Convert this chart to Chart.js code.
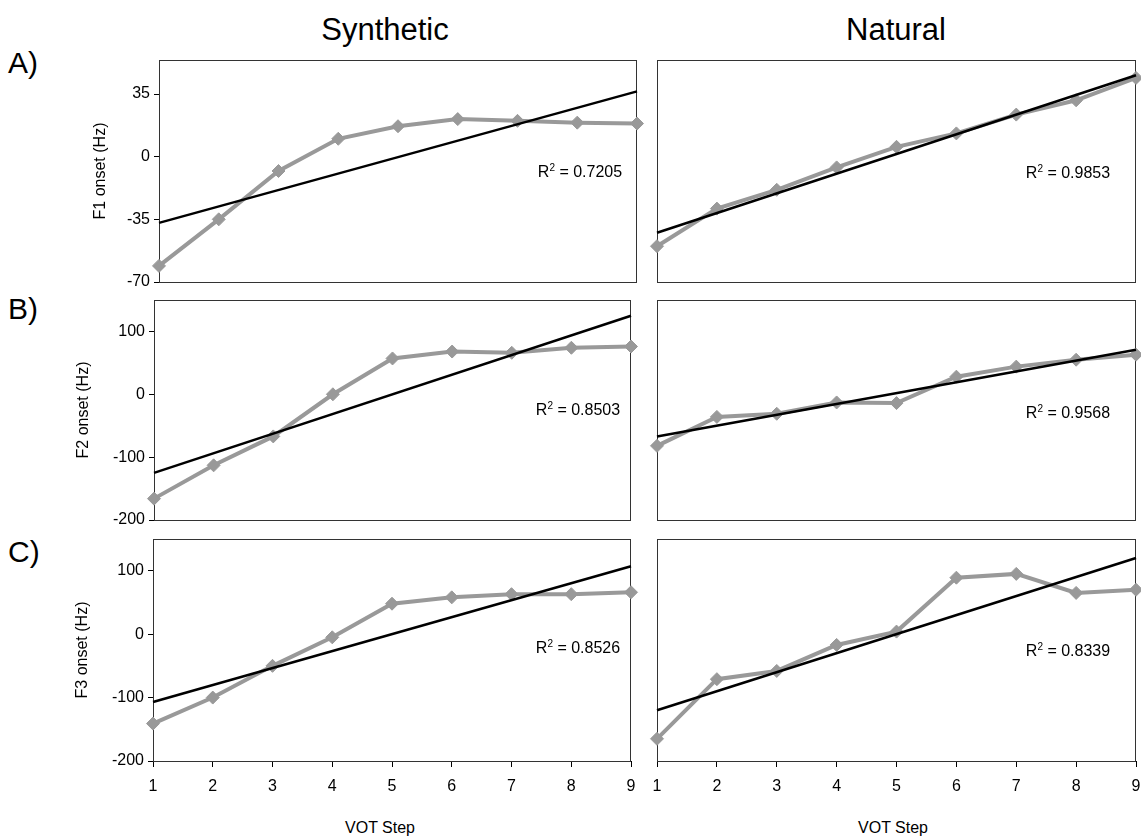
<!DOCTYPE html>
<html lang="en">
<head>
    <meta charset="UTF-8">
    <title>VOT Step onset</title>
    <script src="https://cdn.jsdelivr.net/npm/chart.js"></script>
    <style>
        body {
            margin: 0;
            background: #fff;
            font-family: "Liberation Sans", Arial, sans-serif;
        }
        #fig {
            position: relative;
            width: 1141px;
            height: 838px;
            overflow: hidden;
        }
        #fig canvas {
            position: absolute;
        }
        .txt {
            position: absolute;
            color: #000;
            white-space: nowrap;
            transform: translate(-50%, -50%);
        }
        .col-title { font-size: 31px; }
        .row-label { font-size: 30px; transform: translate(0, -50%); }
        .r2 { font-size: 16px; }
        .r2 sup { font-size: 10px; vertical-align: 6px; line-height: 0; }
        .xtitle { font-size: 16px; }
    </style>
</head>
<body>
<div id="fig">
    <div class="txt col-title" style="left:385px; top:30px;">Synthetic</div>
    <div class="txt col-title" style="left:896px; top:30px;">Natural</div>
    <div class="txt row-label" style="left:8px; top:63px;">A)</div>
    <div class="txt row-label" style="left:8px; top:309px;">B)</div>
    <div class="txt row-label" style="left:8px; top:552px;">C)</div>
    <div class="txt xtitle" style="left:380px; top:828px;">VOT Step</div>
    <div class="txt xtitle" style="left:893px; top:828px;">VOT Step</div>
</div>

<script>
    // VOT steps on the x axis
    var steps = [1, 2, 3, 4, 5, 6, 7, 8, 9];

    // onset shift (Hz) per step
    var synF1 = [-61, -35, -8, 10, 17, 21, 20, 19, 18.5];
    var natF1 = [-50, -29, -18.5, -6, 5.5, 13, 23.5, 31.5, 44];
    var synF2 = [-166, -113, -67, 0, 57, 68, 66, 74, 76];
    var natF2 = [-82, -36, -31, -13, -14, 28, 44, 55, 63];
    var synF3 = [-141, -100, -50, -5, 48, 58, 63, 63, 66];
    var natF3 = [-165, -71, -58, -17, 4, 89, 95, 65, 70];

    // linear trend line, value at step 1 and step 9
    var synF1Trend = [-37, 36.5];
    var natF1Trend = [-42.5, 45.5];
    var synF2Trend = [-125, 125];
    var natF2Trend = [-67, 71];
    var synF3Trend = [-107, 107];
    var natF3Trend = [-120, 120];

    var r2Values = ['0.7205', '0.9853', '0.8503', '0.9568', '0.8526', '0.8339'];

    // y axis ticks per row
    var f1Ticks = [-70, -35, 0, 35];
    var f23Ticks = [-200, -100, 0, 100];

    Chart.defaults.font.family = '"Liberation Sans", Arial, sans-serif';
    Chart.defaults.color = '#000';

    var fig = document.getElementById('fig');

    // box round the plot area
    var frame = {
        id: 'frame',
        beforeDatasetsDraw: function (chart) {
            var a = chart.chartArea, ctx = chart.ctx;
            ctx.save();
            ctx.strokeStyle = '#333';
            ctx.lineWidth = 1;
            ctx.strokeRect(Math.round(a.left) + 0.5, Math.round(a.top) + 0.5,
                Math.round(a.right - a.left) - 1, Math.round(a.bottom - a.top));
            ctx.restore();
        }
    };

    function makePanel(p) {
        var pad = 16, xH = 40;
        var canvasLeft = p.yAxis ? p.axisLeft : p.left - pad;
        var w = p.right + pad - canvasLeft;
        var h = pad + (p.bottom - p.top) + (p.xAxis ? xH : pad);

        var cv = document.createElement('canvas');
        cv.width = w;
        cv.height = h;
        cv.style.left = canvasLeft + 'px';
        cv.style.top = (p.top - pad) + 'px';
        fig.appendChild(cv);

        var pts = steps.map(function (s, i) { return { x: s, y: p.values[i] }; });
        var trend = [{ x: steps[0], y: p.trend[0] }, { x: steps[steps.length - 1], y: p.trend[1] }];

        new Chart(cv, {
            type: 'line',
            data: {
                datasets: [{
                    data: trend,
                    borderColor: '#000',
                    borderWidth: 2.5,
                    pointRadius: 0,
                    clip: false
                }, {
                    data: pts,
                    borderColor: '#999',
                    backgroundColor: '#999',
                    borderWidth: 4,
                    pointStyle: 'rectRot',
                    pointRadius: 6.5,
                    pointBorderWidth: 1,
                    clip: false
                }]
            },
            options: {
                responsive: false,
                animation: false,
                events: [],
                layout: {
                    padding: { top: pad, right: pad, left: p.yAxis ? 0 : pad, bottom: p.xAxis ? 0 : pad }
                },
                plugins: { legend: { display: false }, tooltip: { enabled: false } },
                scales: {
                    x: {
                        type: 'linear',
                        min: 1,
                        max: 9,
                        display: p.xAxis,
                        afterBuildTicks: function (ax) {
                            ax.ticks = steps.map(function (v) { return { value: v }; });
                        },
                        afterFit: function (ax) { ax.height = p.xAxis ? xH : 0; },
                        grid: { drawOnChartArea: false, color: '#000', tickLength: 6 },
                        border: { display: false },
                        ticks: { font: { size: 16 }, padding: 10, maxRotation: 0 }
                    },
                    y: {
                        min: p.yMin,
                        max: p.yMax,
                        display: p.yAxis,
                        afterBuildTicks: function (ax) {
                            ax.ticks = p.yTicks.map(function (v) { return { value: v }; });
                        },
                        afterFit: function (ax) { ax.width = p.yAxis ? p.left - p.axisLeft : 0; },
                        grid: { drawOnChartArea: false, color: '#000', tickLength: 5 },
                        border: { display: false },
                        ticks: { font: { size: 16 }, padding: 4 },
                        title: {
                            display: p.yAxis,
                            text: p.yTitle || '',
                            font: { size: 16 },
                            padding: { top: 0, bottom: 0 }
                        }
                    }
                }
            },
            plugins: [frame]
        });

        var lab = document.createElement('div');
        lab.className = 'txt r2';
        lab.style.left = p.r2x + 'px';
        lab.style.top = p.r2y + 'px';
        lab.innerHTML = 'R<sup>2</sup> = ' + p.r2;
        fig.appendChild(lab);
    }

    makePanel({ left: 159, right: 637, top: 60, bottom: 282, axisLeft: 91, yAxis: true, xAxis: false,
        yTitle: 'F1 onset (Hz)', yMin: -70, yMax: 54, yTicks: f1Ticks,
        values: synF1, trend: synF1Trend, r2: r2Values[0], r2x: 580, r2y: 172 });
    makePanel({ left: 657, right: 1136, top: 60, bottom: 282, yAxis: false, xAxis: false,
        yMin: -70, yMax: 54, yTicks: f1Ticks,
        values: natF1, trend: natF1Trend, r2: r2Values[1], r2x: 1068, r2y: 173 });

    makePanel({ left: 154, right: 631, top: 300, bottom: 520, axisLeft: 74, yAxis: true, xAxis: false,
        yTitle: 'F2 onset (Hz)', yMin: -200, yMax: 150, yTicks: f23Ticks,
        values: synF2, trend: synF2Trend, r2: r2Values[2], r2x: 578, r2y: 410 });
    makePanel({ left: 657, right: 1136, top: 300, bottom: 520, yAxis: false, xAxis: false,
        yMin: -200, yMax: 150, yTicks: f23Ticks,
        values: natF2, trend: natF2Trend, r2: r2Values[3], r2x: 1068, r2y: 413 });

    makePanel({ left: 153, right: 631, top: 539, bottom: 761, axisLeft: 73, yAxis: true, xAxis: true,
        yTitle: 'F3 onset (Hz)', yMin: -200, yMax: 150, yTicks: f23Ticks,
        values: synF3, trend: synF3Trend, r2: r2Values[4], r2x: 578, r2y: 648 });
    makePanel({ left: 657, right: 1136, top: 539, bottom: 761, yAxis: false, xAxis: true,
        yMin: -200, yMax: 150, yTicks: f23Ticks,
        values: natF3, trend: natF3Trend, r2: r2Values[5], r2x: 1068, r2y: 651 });
</script>
</body>
</html>
